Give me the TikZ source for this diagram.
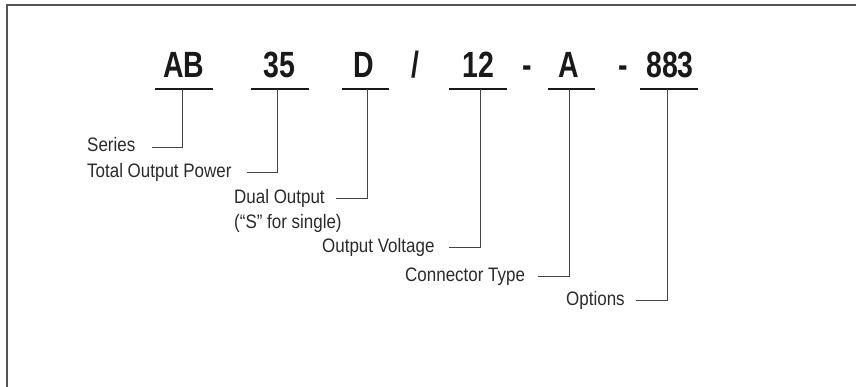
\documentclass[tikz,border=0pt]{standalone}
\usepackage{fontspec}
\newfontfamily\bigfont[FakeStretch=0.78]{Liberation Sans}
\newfontfamily\lblfont[FakeStretch=0.87]{Liberation Sans}
\definecolor{framegray}{HTML}{555555}
\definecolor{txtgray}{HTML}{2A2A2A}
\definecolor{linegray}{HTML}{444444}
\tikzset{
  code/.style={anchor=base, inner sep=0pt, text=black!90, font=\bigfont\bfseries\fontsize{36.5}{36.5}\selectfont},
  lbl/.style={anchor=base west, inner sep=0pt, text=txtgray, font=\lblfont\fontsize{19.5}{19.5}\selectfont},
  uline/.style={draw=black!90, line width=2.4pt},
  conn/.style={draw=linegray, line width=1pt},
  framebar/.style={draw=framegray, line width=2pt}
}
\begin{document}
\begin{tikzpicture}[x=1pt,y=-1pt]
\useasboundingbox (0,0) rectangle (856,387);
% frame
\coordinate (fa) at (7,387);
\coordinate (fb) at (7,5);
\coordinate (fc) at (856,5);
\draw[framebar] (fa) -- (fb) -- (fc);
% code characters
\node[code] (c1) at (184,77.5) {AB};
\node[code] (c2) at (279,77.5) {35};
\node[code] (c3) at (364,77.5) {D};
\node[code] (s1) at (415,77.5) {/};
\node[code] (c4) at (478.5,77.5) {12};
\node[code] (s2) at (527,77.5) {-};
\node[code] (c5) at (569,77.5) {A};
\node[code] (s3) at (623,77.5) {-};
\node[code] (c6) at (670,77.5) {883};
% underlines
\coordinate (u1a) at (155,89);   \coordinate (u1b) at (213,89);
\coordinate (u2a) at (250.5,89); \coordinate (u2b) at (309,89);
\coordinate (u3a) at (342,89);   \coordinate (u3b) at (389,89);
\coordinate (u4a) at (449,89);   \coordinate (u4b) at (507,89);
\coordinate (u5a) at (548,89);   \coordinate (u5b) at (595,89);
\coordinate (u6a) at (640,89);   \coordinate (u6b) at (698,89);
\draw[uline] (u1a) -- (u1b);
\draw[uline] (u2a) -- (u2b);
\draw[uline] (u3a) -- (u3b);
\draw[uline] (u4a) -- (u4b);
\draw[uline] (u5a) -- (u5b);
\draw[uline] (u6a) -- (u6b);
% labels
\node[lbl] (l1) at (87,152) {Series};
\node[lbl] (l2) at (87,178) {Total Output Power};
\node[lbl] (l3) at (234,204) {Dual Output};
\node[lbl] (l3b) at (234,228.5) {(“S” for single)};
\node[lbl] (l4) at (322,253) {Output Voltage};
\node[lbl] (l5) at (405,281) {Connector Type};
\node[lbl] (l6) at (566,305.5) {Options};
% connector ends
\coordinate (v1) at (182.5,89); \coordinate (e1) at (152,147.3);
\coordinate (v2) at (277.5,89); \coordinate (e2) at (247,173);
\coordinate (v3) at (367,89);   \coordinate (e3) at (336,199);
\coordinate (v4) at (480.5,89); \coordinate (e4) at (449,248);
\coordinate (v5) at (569.5,89); \coordinate (e5) at (538,276);
\coordinate (v6) at (667,89);   \coordinate (e6) at (636,300.5);
\draw[conn] (e1) -| (v1);
\draw[conn] (e2) -| (v2);
\draw[conn] (e3) -| (v3);
\draw[conn] (e4) -| (v4);
\draw[conn] (e5) -| (v5);
\draw[conn] (e6) -| (v6);
\end{tikzpicture}
\end{document}
